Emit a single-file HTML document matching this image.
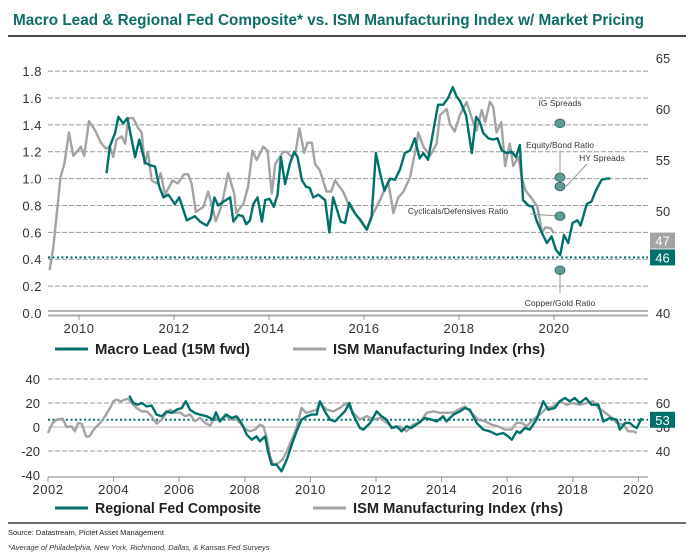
<!DOCTYPE html>
<html><head><meta charset="utf-8"><style>
html,body{margin:0;padding:0;background:#fff;}
svg{display:block;font-family:"Liberation Sans",sans-serif;}
</style></head><body>
<svg id="c" width="693" height="557" viewBox="0 0 693 557">
<text x="13" y="25" fill="#0e6d66" font-weight="bold" font-size="16" textLength="631" lengthAdjust="spacingAndGlyphs" font-family="'Liberation Sans Narrow','Liberation Sans',sans-serif">Macro Lead &amp; Regional Fed Composite* vs. ISM Manufacturing Index w/ Market Pricing</text>
<line x1="8" y1="36" x2="686" y2="36" stroke="#111" stroke-width="1.5"/>
<g id="topg"></g>
<g id="botg"></g>
<line x1="8" y1="523" x2="686" y2="523" stroke="#111" stroke-width="1.2"/>
<text x="8" y="535" font-size="7.5" fill="#222">Source: Datastream, Pictet Asset Management</text>
<text x="8" y="550" font-size="7.5" font-style="italic" fill="#333">*Average of Philadelphia, New York, Richmond, Dallas, &amp; Kansas Fed Surveys</text>
</svg>
<script>
// ---- top chart data ----
const macroYears=[2010.58,2010.65,2010.76,2010.83,2010.93,2011.02,2011.11,2011.18,2011.27,2011.39,2011.49,2011.6,2011.69,2011.78,2011.88,2012.02,2012.11,2012.27,2012.44,2012.55,2012.69,2012.77,2012.85,2012.93,2013.05,2013.18,2013.25,2013.35,2013.45,2013.52,2013.6,2013.67,2013.76,2013.85,2013.92,2014.01,2014.1,2014.18,2014.25,2014.34,2014.44,2014.53,2014.6,2014.69,2014.78,2014.86,2014.93,2015.04,2015.18,2015.27,2015.35,2015.42,2015.51,2015.6,2015.69,2015.81,2015.91,2016.06,2016.16,2016.25,2016.34,2016.43,2016.55,2016.65,2016.76,2016.86,2016.97,2017.07,2017.17,2017.25,2017.35,2017.45,2017.56,2017.67,2017.77,2017.87,2017.95,2018.02,2018.15,2018.27,2018.36,2018.44,2018.51,2018.62,2018.72,2018.81,2018.9,2019.0,2019.11,2019.2,2019.28,2019.35,2019.46,2019.55,2019.63,2019.74,2019.85,2019.95,2020.04,2020.13,2020.21,2020.3,2020.39,2020.49,2020.56,2020.69,2020.79,2020.88,2021.0,2021.11,2021.18];
const macroVals=[1.04,1.24,1.34,1.46,1.41,1.45,1.29,1.16,1.29,1.12,1.10,1.09,0.94,0.86,0.88,0.81,0.86,0.69,0.72,0.68,0.65,0.70,0.86,0.80,0.83,0.86,0.68,0.73,0.72,0.66,0.69,0.81,0.86,0.68,0.84,0.85,0.79,0.88,1.16,0.96,1.11,1.20,1.16,0.99,0.94,0.93,0.86,0.88,0.84,0.60,0.86,0.78,0.68,0.67,0.82,0.74,0.70,0.62,0.72,1.19,1.04,0.91,1.00,0.99,1.07,1.19,1.21,1.30,1.15,1.19,1.14,1.34,1.55,1.55,1.60,1.68,1.61,1.58,1.47,1.19,1.46,1.42,1.34,1.30,1.29,1.30,1.21,1.19,1.20,1.16,1.25,0.84,0.80,0.79,0.69,0.60,0.52,0.57,0.47,0.43,0.58,0.52,0.67,0.69,0.65,0.81,0.83,0.91,0.99,1.00,1.00];
const ismTopYears=[2009.38,2009.46,2009.61,2009.69,2009.79,2009.88,2010.04,2010.11,2010.21,2010.34,2010.46,2010.57,2010.65,2010.72,2010.79,2010.9,2010.97,2011.04,2011.14,2011.25,2011.32,2011.38,2011.45,2011.53,2011.64,2011.72,2011.81,2011.97,2012.08,2012.21,2012.3,2012.37,2012.46,2012.62,2012.72,2012.88,2013.0,2013.14,2013.27,2013.31,2013.46,2013.56,2013.65,2013.74,2013.88,2013.97,2014.06,2014.13,2014.3,2014.37,2014.48,2014.56,2014.64,2014.74,2014.81,2014.9,2014.97,2015.07,2015.21,2015.31,2015.39,2015.56,2015.67,2015.85,2016.06,2016.2,2016.34,2016.51,2016.62,2016.72,2016.83,2016.97,2017.11,2017.14,2017.25,2017.39,2017.53,2017.6,2017.74,2017.81,2017.91,2018.02,2018.16,2018.3,2018.37,2018.48,2018.55,2018.65,2018.72,2018.79,2018.89,2018.97,2019.07,2019.14,2019.25,2019.32,2019.4,2019.54,2019.65,2019.75,2019.82,2019.93,2020.0];
const ismTopVals=[44.2,46.5,53.3,54.6,57.7,55.4,56.3,55.4,58.8,57.9,56.7,56.1,56.3,55.3,57.0,57.3,56.6,59.1,59.1,58.1,57.7,54.6,55.8,53.0,52.7,53.7,51.6,53.0,52.7,53.6,53.6,52.7,49.9,50.4,51.9,49.0,50.5,53.7,51.7,49.8,50.7,52.4,55.9,55.0,56.3,55.9,51.7,54.6,55.8,55.8,55.3,55.8,58.1,55.7,56.7,56.7,54.6,54.0,51.9,51.9,53.0,51.9,50.7,49.5,48.2,49.8,51.1,52.9,49.8,51.3,51.9,53.3,56.6,57.7,56.3,55.4,56.6,59.4,60.0,58.5,57.8,59.4,60.7,58.7,57.9,59.9,58.7,60.7,60.2,57.7,58.7,54.4,56.6,54.4,55.3,53.3,52.0,51.2,50.4,47.9,48.4,48.3,47.8];
const topLeftTicks=[0.0,0.2,0.4,0.6,0.8,1.0,1.2,1.4,1.6,1.8];
const topRightTicks=[40,50,55,60,65];
const topXTicks=[2010,2012,2014,2016,2018,2020];
const marketLabels=["IG Spreads","Equity/Bond Ratio","HY Spreads","Cyclicals/Defensives Ratio","Copper/Gold Ratio"];
const marketVals=[58.6,53.3,52.4,49.5,44.2];
const topLatest=[47,46];
const topLatestLevels=[47.1,45.45];
const topRefLevel=45.45;
// ---- bottom chart data ----
const fedYears=[2004.48,2004.6,2004.72,2004.86,2005.01,2005.16,2005.31,2005.47,2005.62,2005.77,2005.92,2006.08,2006.2,2006.33,2006.48,2006.63,2006.84,2007.04,2007.12,2007.24,2007.44,2007.6,2007.75,2007.9,2008.06,2008.21,2008.36,2008.46,2008.62,2008.72,2008.82,2008.97,2009.12,2009.28,2009.43,2009.58,2009.73,2009.89,2010.04,2010.19,2010.29,2010.44,2010.6,2010.75,2010.9,2011.05,2011.19,2011.28,2011.38,2011.51,2011.62,2011.82,2012.02,2012.17,2012.33,2012.48,2012.63,2012.78,2012.93,2013.08,2013.29,2013.49,2013.7,2013.85,2014.05,2014.15,2014.36,2014.56,2014.71,2014.86,2015.07,2015.27,2015.47,2015.68,2015.88,2016.03,2016.14,2016.29,2016.39,2016.54,2016.69,2016.89,2017.1,2017.25,2017.45,2017.6,2017.76,2017.91,2018.06,2018.21,2018.4,2018.57,2018.78,2018.93,2019.13,2019.34,2019.44,2019.59,2019.74,2019.85,2019.95,2020.1];
const fedVals=[26.1,20,18.6,20,17.2,17.8,10.3,8.9,13,11.7,14.4,15.8,21.4,14.4,11.7,10.3,8.9,6.1,12.2,4.7,10.3,7.5,8.9,3.3,-6.4,-10.6,-7.8,-11.9,-7.8,-21.7,-31.4,-31.4,-36.9,-27.2,-14.7,-3.6,6.1,8.9,10.3,10.3,21.4,13,6.1,4.7,8.9,13,20,11.7,6.1,-0.8,-2.2,3.3,13,8.9,6.1,-0.8,0.6,-3.6,0.6,-0.8,3.3,7.5,6.1,4.7,8.9,4.7,10.3,13,15.8,14.4,3.3,-2.2,-3.6,-6.4,-5,-7.8,-10.6,-3.6,-5,-0.8,-2.2,6.1,21.4,14.4,15.8,21.4,24.2,21.4,24.2,20,24.2,18.6,18.6,4.7,7.5,6.1,-2.2,3.3,3.3,0.6,-0.8,7.5];
const ismBotYears=[2002.0,2002.14,2002.26,2002.45,2002.57,2002.72,2002.82,2002.92,2003.03,2003.16,2003.26,2003.43,2003.59,2003.74,2003.89,2003.99,2004.09,2004.22,2004.35,2004.45,2004.55,2004.7,2004.86,2005.01,2005.16,2005.31,2005.47,2005.62,2005.72,2005.87,2006.02,2006.18,2006.33,2006.48,2006.63,2006.79,2006.94,2007.09,2007.24,2007.4,2007.55,2007.7,2007.85,2008.01,2008.16,2008.31,2008.46,2008.57,2008.67,2008.77,2008.87,2009.02,2009.15,2009.28,2009.43,2009.58,2009.73,2009.87,2010.04,2010.19,2010.29,2010.5,2010.7,2010.9,2011.1,2011.31,2011.51,2011.72,2011.92,2012.12,2012.33,2012.53,2012.73,2012.93,2013.13,2013.34,2013.54,2013.75,2013.95,2014.15,2014.36,2014.56,2014.71,2014.91,2015.12,2015.32,2015.52,2015.72,2015.93,2016.13,2016.28,2016.44,2016.59,2016.79,2017.0,2017.2,2017.4,2017.6,2017.81,2018.01,2018.21,2018.42,2018.62,2018.78,2018.93,2019.13,2019.34,2019.54,2019.69,2019.85,2019.95];
const ismBotVals=[47.5,51.7,53.1,53.4,50,50.3,48.2,51.7,51.3,46.1,46.1,49.6,51.7,54.5,57.9,60.7,61.4,60.7,61.4,61.7,60,57.9,56.5,56.5,54.5,51.4,53.1,55.9,57.2,55.9,56.1,54.5,55.2,52.4,53.8,51.7,50.6,53.8,52.4,55.2,53.1,53.8,51.7,49.2,48.2,48.9,51,50.3,45.4,37.8,34.3,35,36.4,39.9,44.7,49.6,57.9,55.9,56.5,57.2,60,57.2,56.5,57.9,60,55.9,53.1,54.5,53.1,53.8,51.7,49.6,50.3,48.2,51,51.7,55.9,56.5,55.9,55.9,56.1,57.5,58.6,55.9,53.1,52.4,51,50.3,48.9,48.9,51.7,51.7,50.3,53.1,55.2,57.9,58.6,60.7,59.3,60,59.3,60,60.7,57.9,56.5,54.5,51.7,51,48.2,48.2,47.5];
const botLeftTicks=[-40,-20,0,20,40];
const botRightTicks=[40,50,60];
const botXTicks=[2002,2004,2006,2008,2010,2012,2014,2016,2018,2020];
const botLatest=[53];

const NS="http://www.w3.org/2000/svg";
const TEAL="#00706a", GREY="#a3a3a3";
function mk(parent,tag,attrs,text){const e=document.createElementNS(NS,tag);for(const k in attrs)e.setAttribute(k,attrs[k]);if(text!==undefined)e.textContent=text;parent.appendChild(e);return e;}
const topG=document.getElementById('topg'), botG=document.getElementById('botg');

const tX=y=>79+(y-2010)*47.5;
const tL=v=>313-v*134.4;
const tR=v=>313-(v-40)*10.2;
topLeftTicks.forEach(t=>{
  if(t>0){const g=mk(topG,'line',{x1:48,x2:648,y1:tL(t),y2:tL(t),stroke:'#9a9a9a','stroke-width':1,'stroke-dasharray':'5,2'});
  
  }
  const l=mk(topG,'text',{x:42,y:tL(t)+5,'text-anchor':'end','font-size':13,fill:'#333','letter-spacing':'0.5'},t.toFixed(1));
  
  
});
topRightTicks.forEach(t=>{
  const l=mk(topG,'text',{x:663,y:tR(t)+5,'text-anchor':'middle','font-size':13,fill:'#333'},String(t));
  
  
});
{const a=mk(topG,'line',{x1:48,x2:648,y1:311,y2:311,stroke:'#999','stroke-width':1.5});


const a2=mk(topG,'line',{x1:48,x2:648,y1:315.5,y2:315.5,stroke:'#aaa','stroke-width':2});

}
topXTicks.forEach(t=>{
  const k=mk(topG,'line',{x1:tX(t),x2:tX(t),y1:315,y2:320,stroke:'#999'});
  
  
  const l=mk(topG,'text',{x:tX(t),y:333,'text-anchor':'middle','font-size':13,fill:'#333','letter-spacing':'0.5'},String(t));
  
  
});
{const d=mk(topG,'line',{x1:48,x2:648,y1:tR(topRefLevel),y2:tR(topRefLevel),stroke:TEAL,'stroke-width':2,'stroke-dasharray':'2,2.5'});

}
function path(parent,xs,vs,fx,fy,color,name){
  const d=xs.map((x,i)=>(i?'L':'M')+fx(x).toFixed(1)+','+fy(vs[i]).toFixed(1)).join('');
  const p=mk(parent,'path',{d:d,fill:'none',stroke:color,'stroke-width':2.4,'stroke-linejoin':'round'});
  
  
}
path(topG,ismTopYears,ismTopVals,tX,tR,GREY,'ism-top-line');
path(topG,macroYears,macroVals,tX,tL,TEAL,'macro-lead-line');
[[topLatest[0],GREY],[topLatest[1],TEAL]].forEach(([v,c],i)=>{
  const y=tR(topLatestLevels[i]);
  const r=mk(topG,'rect',{x:650,y:y-8,width:25,height:16,fill:c});
  
  
  const t=mk(topG,'text',{x:662.5,y:y+5,'text-anchor':'middle','font-size':13,fill:'#fff'},String(v));
  
  
});
const mx=560;
const lblStyle={'font-size':8.5,fill:'#333','font-family':"'Liberation Sans Narrow','Liberation Sans',sans-serif"};
function lbl(x,y,txt,anchor,name){const t=mk(topG,'text',Object.assign({x:x,y:y,'text-anchor':anchor},lblStyle),txt);}
function conn(x1,y1,x2,y2,name){const l=mk(topG,'line',{x1:x1,y1:y1,x2:x2,y2:y2,stroke:'#999','stroke-width':1});}
const my=marketVals.map(tR);
lbl(mx,106,marketLabels[0],'middle','ig-spreads-label');
lbl(mx,148,marketLabels[1],'middle','equity-bond-label');
conn(mx,151,mx,my[1],'equity-bond-connector');
lbl(602,161,marketLabels[2],'middle','hy-spreads-label');
conn(587,164,566,my[2],'hy-spreads-connector');
lbl(458,214,marketLabels[3],'middle','cyclicals-defensives-label');
conn(530,214,mx,my[3],'cyclicals-defensives-connector');
conn(mx,my[4],mx,293,'copper-gold-connector');
lbl(mx,306,marketLabels[4],'middle','copper-gold-label');
marketVals.forEach((v,i)=>{
  const c=mk(topG,'ellipse',{cx:mx,cy:tR(v),rx:5,ry:4.3,fill:'#5f9b97',stroke:'#2f5f5c','stroke-width':0.8});
  
  
});
{const a=mk(topG,'line',{x1:55,x2:88,y1:349,y2:349,stroke:TEAL,'stroke-width':3});

const b=mk(topG,'text',{x:95,y:354,'font-size':14.5,'font-weight':'bold',fill:'#222',textLength:155,lengthAdjust:'spacingAndGlyphs'},'Macro Lead (15M fwd)');

const c=mk(topG,'line',{x1:293,x2:326,y1:349,y2:349,stroke:GREY,'stroke-width':3});

const d=mk(topG,'text',{x:333,y:354,'font-size':14.5,'font-weight':'bold',fill:'#222',textLength:212,lengthAdjust:'spacingAndGlyphs'},'ISM Manufacturing Index (rhs)');
}

const bX=y=>48+(y-2002)*32.8;
const bL=v=>427-v*1.2;
const bR=v=>427-(v-50)*2.4;
botLeftTicks.forEach(t=>{
  if(t!==0&&t!==-40){const g=mk(botG,'line',{x1:48,x2:648,y1:bL(t),y2:bL(t),stroke:'#9a9a9a','stroke-width':1,'stroke-dasharray':'5,2'});
  
  }
  const l=mk(botG,'text',{x:40,y:bL(t)+5,'text-anchor':'end','font-size':13,fill:'#333'},String(t));
  
  
});
{const z=mk(botG,'line',{x1:48,x2:648,y1:bL(0),y2:bL(0),stroke:'#c9b3b3','stroke-width':1});

const a=mk(botG,'line',{x1:48,x2:648,y1:477,y2:477,stroke:'#999','stroke-width':1.2});
}
botRightTicks.forEach(t=>{
  const l=mk(botG,'text',{x:663,y:bR(t)+5,'text-anchor':'middle','font-size':13,fill:'#333'},String(t));
  
  
});
botXTicks.forEach(t=>{
  const k=mk(botG,'line',{x1:bX(t),x2:bX(t),y1:477,y2:482,stroke:'#999'});
  
  
  const l=mk(botG,'text',{x:bX(t),y:494,'text-anchor':'middle','font-size':13,fill:'#333','letter-spacing':'0.5'},String(t));
  
  
});
{const d=mk(botG,'line',{x1:48,x2:648,y1:bR(botLatest[0]),y2:bR(botLatest[0]),stroke:TEAL,'stroke-width':2,'stroke-dasharray':'2,2.5'});
}
path(botG,ismBotYears,ismBotVals,bX,bR,GREY,'ism-bottom-line');
path(botG,fedYears,fedVals,bX,bL,TEAL,'regional-fed-line');
{const y=bR(botLatest[0]);
const r=mk(botG,'rect',{x:650,y:y-8,width:25,height:16,fill:TEAL});

const t=mk(botG,'text',{x:662.5,y:y+5,'text-anchor':'middle','font-size':13,fill:'#fff'},String(botLatest[0]));
}
{const a=mk(botG,'line',{x1:55,x2:88,y1:508,y2:508,stroke:TEAL,'stroke-width':3});

const b=mk(botG,'text',{x:95,y:513,'font-size':14.5,'font-weight':'bold',fill:'#222',textLength:166,lengthAdjust:'spacingAndGlyphs'},'Regional Fed Composite');

const c=mk(botG,'line',{x1:313,x2:346,y1:508,y2:508,stroke:GREY,'stroke-width':3});

const d=mk(botG,'text',{x:353,y:513,'font-size':14.5,'font-weight':'bold',fill:'#222',textLength:210,lengthAdjust:'spacingAndGlyphs'},'ISM Manufacturing Index (rhs)');
}
</script>
</body></html>
